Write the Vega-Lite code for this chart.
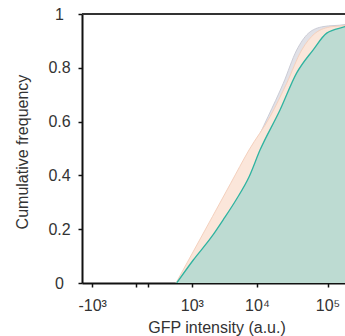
{
  "$schema": "https://vega.github.io/schema/vega-lite/v6.json",
  "width": 263,
  "height": 269,
  "autosize": {"type": "none"},
  "padding": {"left": 82, "top": 14, "right": 0, "bottom": 53},
  "background": "white",
  "config": {
    "view": {"stroke": null},
    "font": "Liberation Sans",
    "axis": {"zindex": 1, "grid": false}
  },
  "data": {
    "values": [
      {"g": "gray", "x": 524, "y": 0},
      {"g": "gray", "x": 1163, "y": 0.1227},
      {"g": "gray", "x": 2343, "y": 0.2465},
      {"g": "gray", "x": 4512, "y": 0.3706},
      {"g": "gray", "x": 8490, "y": 0.4944},
      {"g": "gray", "x": 14400, "y": 0.6182},
      {"g": "gray", "x": 23775, "y": 0.7424},
      {"g": "gray", "x": 36800, "y": 0.866},
      {"g": "gray", "x": 53625, "y": 0.928},
      {"g": "gray", "x": 86450, "y": 0.953},
      {"g": "gray", "x": 176150, "y": 0.961},
      {"g": "gray", "x": 400000, "y": 0.99},
      {"g": "peach", "x": 500, "y": 0},
      {"g": "peach", "x": 1096, "y": 0.1227},
      {"g": "peach", "x": 2181, "y": 0.2465},
      {"g": "peach", "x": 4140, "y": 0.3706},
      {"g": "peach", "x": 7680, "y": 0.4944},
      {"g": "peach", "x": 15388, "y": 0.6182},
      {"g": "peach", "x": 26550, "y": 0.7424},
      {"g": "peach", "x": 43300, "y": 0.866},
      {"g": "peach", "x": 66675, "y": 0.928},
      {"g": "peach", "x": 114600, "y": 0.953},
      {"g": "peach", "x": 176150, "y": 0.957},
      {"g": "peach", "x": 400000, "y": 0.99},
      {"g": "teal", "x": 517, "y": 0},
      {"g": "teal", "x": 1062, "y": 0.0855},
      {"g": "teal", "x": 2127, "y": 0.172},
      {"g": "teal", "x": 3175, "y": 0.234},
      {"g": "teal", "x": 4960, "y": 0.3086},
      {"g": "teal", "x": 7680, "y": 0.394},
      {"g": "teal", "x": 11068, "y": 0.494},
      {"g": "teal", "x": 21350, "y": 0.643},
      {"g": "teal", "x": 36800, "y": 0.781},
      {"g": "teal", "x": 62500, "y": 0.866},
      {"g": "teal", "x": 97475, "y": 0.929},
      {"g": "teal", "x": 176150, "y": 0.953},
      {"g": "teal", "x": 400000, "y": 0.985},
      {"g": "frame", "x": 0, "y": 1}
    ]
  },
  "layer": [
    {
      "transform": [{"filter": "datum.g == 'gray'"}],
      "mark": {"type": "area", "clip": true, "interpolate": "monotone", "color": "#e1e1e7", "opacity": 1, "fillOpacity": 1, "line": {"color": "#cbccd6", "strokeWidth": 1}},
      "encoding": {
        "x": {
          "field": "x", "type": "quantitative",
          "scale": {"type": "symlog", "constant": 250, "domain": [-1487, 176150], "nice": false, "zero": false},
          "axis": {
            "values": [-1000, -300, -50, 0, 50, 500, 1000, 5000, 10000, 50000, 100000],
            "labelExpr": "datum.value == -1000 ? '-10³' : datum.value == 0 ? '0' : datum.value == 1000 ? '10³' : datum.value == 10000 ? '10⁴' : datum.value == 100000 ? '10⁵' : ''",
            "labelFlush": false,
            "labelOverlap": false,
            "labelFontSize": 16,
            "labelColor": "#333333",
            "labelBaseline": "alphabetic",
            "labelAlign": "center",
            "labelPadding": 23,
            "tickSize": 4,
            "tickColor": "#111111",
            "tickWidth": 1.5,
            "domainColor": "#111111",
            "domainWidth": 2,
            "title": "GFP intensity (a.u.)",
            "titleFontSize": 16,
            "titleFontWeight": "normal",
            "titleColor": "#333333",
            "titleX": 134.5,
            "titleY": 49,
            "titleAlign": "center",
            "titleBaseline": "alphabetic"
          }
        },
        "y": {
          "field": "y", "type": "quantitative",
          "scale": {"domain": [0, 1], "nice": false},
          "axis": {
            "values": [0, 0.2, 0.4, 0.6, 0.8, 1],
            "format": "~g",
            "labelFontSize": 16,
            "labelColor": "#333333",
            "labelAlign": "center",
            "labelBaseline": "middle",
            "labelPadding": 19,
            "labelOverlap": false,
            "labelFlush": false,
            "tickSize": 4,
            "tickColor": "#111111",
            "tickWidth": 1.5,
            "domainColor": "#111111",
            "domainWidth": 2,
            "title": "Cumulative frequency",
            "titleFontSize": 16,
            "titleFontWeight": "normal",
            "titleColor": "#333333",
            "titleAngle": -90,
            "titleX": -54.5,
            "titleY": 137.5,
            "titleAlign": "center",
            "titleBaseline": "alphabetic"
          }
        }
      }
    },
    {
      "transform": [{"filter": "datum.g == 'peach'"}],
      "mark": {"type": "area", "clip": true, "interpolate": "monotone", "color": "#fbe6da", "opacity": 1, "fillOpacity": 1, "line": {"color": "#f4d0bd", "strokeWidth": 1}},
      "encoding": {
        "x": {"field": "x", "type": "quantitative", "title": "GFP intensity (a.u.)"},
        "y": {"field": "y", "type": "quantitative", "title": "Cumulative frequency"}
      }
    },
    {
      "transform": [{"filter": "datum.g == 'teal'"}],
      "mark": {"type": "area", "clip": true, "interpolate": "monotone", "color": "#bddbd2", "opacity": 1, "fillOpacity": 1, "line": {"color": "#2fb3a0", "strokeWidth": 1.3}},
      "encoding": {
        "x": {"field": "x", "type": "quantitative", "title": "GFP intensity (a.u.)"},
        "y": {"field": "y", "type": "quantitative", "title": "Cumulative frequency"}
      }
    },
    {
      "transform": [{"filter": "datum.g == 'frame'"}],
      "mark": {"type": "rule", "color": "#333333", "strokeWidth": 2},
      "encoding": {
        "y": {"field": "y", "type": "quantitative", "title": "Cumulative frequency"}
      }
    }
  ]
}
